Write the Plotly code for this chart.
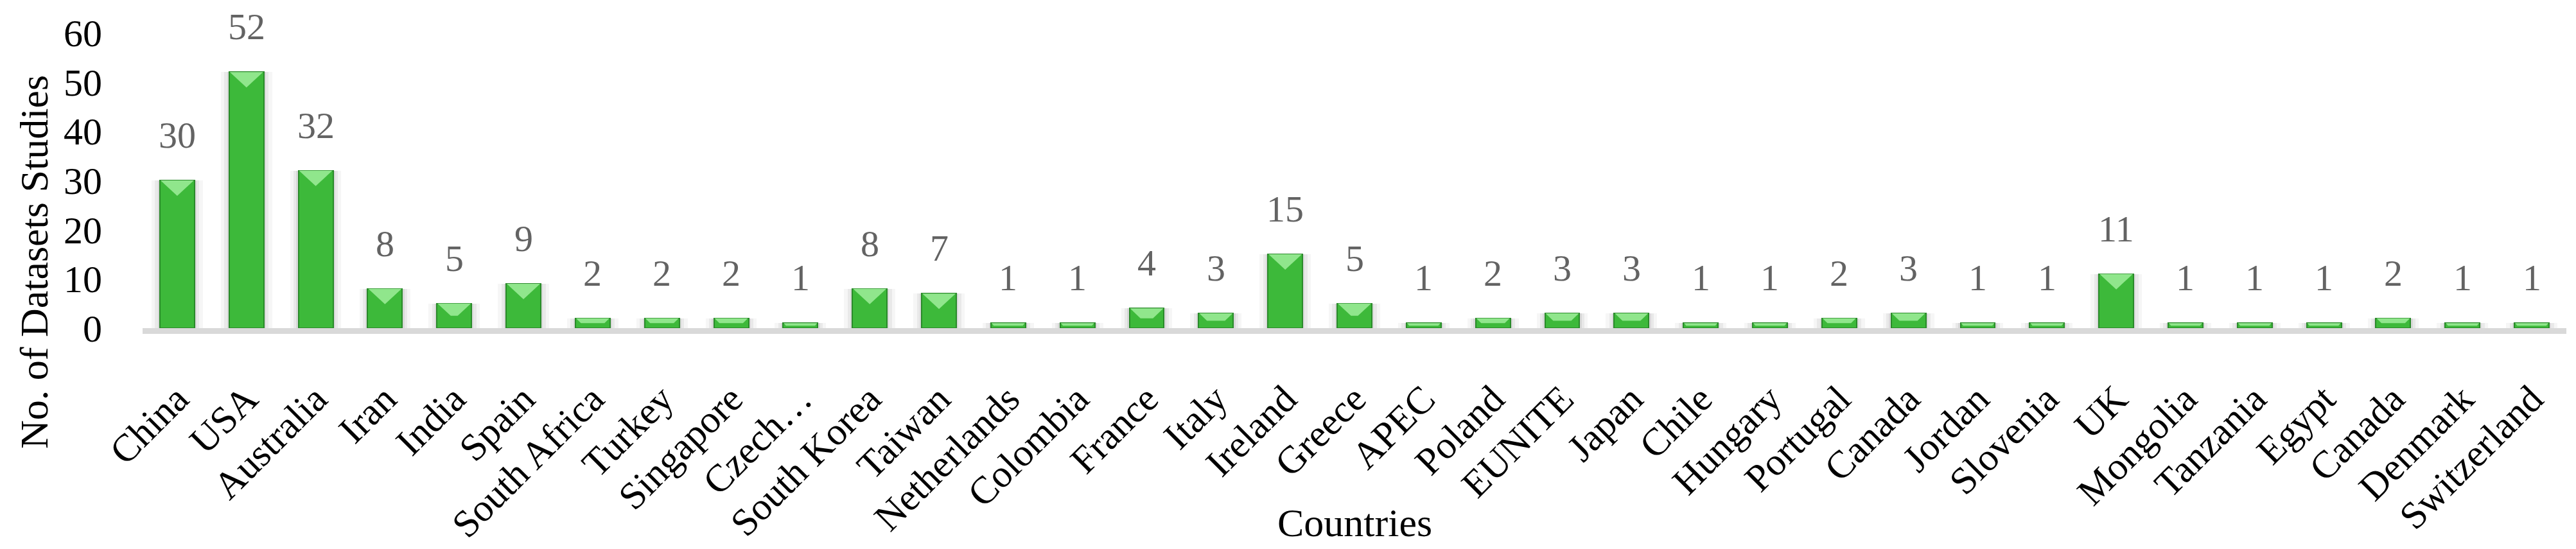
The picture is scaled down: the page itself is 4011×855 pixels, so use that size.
import plotly.graph_objects as go

countries = [
    "China", "USA", "Australia", "Iran", "India", "Spain", "South Africa",
    "Turkey", "Singapore", "Czech…", "South Korea", "Taiwan", "Netherlands",
    "Colombia", "France", "Italy", "Ireland", "Greece", "APEC", "Poland",
    "EUNITE", "Japan", "Chile", "Hungary", "Portugal", "Canada", "Jordan",
    "Slovenia", "UK", "Mongolia", "Tanzania", "Egypt", "Canada", "Denmark",
    "Switzerland"
]
studies = [
    30, 52, 32, 8, 5, 9, 2, 2, 2, 1, 8, 7, 1, 1, 4, 3, 15, 5, 1, 2, 3, 3,
    1, 1, 2, 3, 1, 1, 11, 1, 1, 1, 2, 1, 1
]
y_ticks = [0, 10, 20, 30, 40, 50, 60]

W, H = 4011, 855
ML, MR, MT, MB = 214, 23, 43, 352
FONT = "Liberation Serif, Times New Roman, serif"

pos = list(range(len(countries)))
plot_h = H - MT - MB
ppu = plot_h / 60.0           # pixels per unit on y
bar_px = 0.5 * (W - ML - MR) / len(countries)
half = bar_px / 2

fig = go.Figure()

# soft shadow behind bars
for w, a in [(0.74, 0.035), (0.64, 0.05), (0.56, 0.07)]:
    fig.add_bar(x=pos, y=studies, width=w, hoverinfo="skip",
                marker=dict(color=f"rgba(0,0,0,{a})", line_width=0),
                showlegend=False)

fig.add_bar(
    x=pos, y=studies, width=0.5, showlegend=False,
    marker=dict(color="#3db93a", line=dict(color="#2a8a2a", width=2)),
)

# bevel on top of each bar
for i, v in zip(pos, studies):
    h = v * ppu
    th = 24 if h >= 48 else h * 0.5
    b = half * (1 - th / 24)
    fig.add_shape(
        type="path", xref="x", yref="y",
        xsizemode="pixel", ysizemode="pixel", xanchor=i, yanchor=v,
        path=f"M {-half+1} 0 L {half-1} 0 L {b} {-th} L {-b} {-th} Z",
        fillcolor="#90e68c", line=dict(width=0), layer="above",
    )
    fig.add_annotation(
        x=i, y=v, text=str(v), showarrow=False, yanchor="bottom",
        yshift=36, font=dict(family=FONT, size=58, color="#636363"),
    )

fig.add_annotation(
    text="No. of Datasets Studies", xref="paper", yref="paper",
    x=-(ML - 45) / (W - ML - MR), y=1 - (400 - MT) / plot_h,
    textangle=-90, showarrow=False, xanchor="center", yanchor="middle",
    font=dict(family=FONT, size=62, color="black"),
)
fig.add_annotation(
    text="Countries", xref="paper", yref="paper",
    x=0.5, y=-(806 - (H - MB)) / plot_h,
    showarrow=False, xanchor="center", yanchor="middle",
    font=dict(family=FONT, size=62, color="black"),
)

fig.update_layout(
    width=W, height=H, barmode="overlay", bargap=0,
    margin=dict(l=ML, r=MR, t=MT, b=MB),
    plot_bgcolor="white", paper_bgcolor="white",
    font=dict(family=FONT, color="black"),
)
fig.update_xaxes(
    tickvals=pos, ticktext=countries, tickangle=-45,
    range=[-0.5, len(countries) - 0.5],
    showline=True, linecolor="#d9d9d9", linewidth=9,
    ticks="outside", ticklen=42, tickcolor="rgba(0,0,0,0)",
    showgrid=False, zeroline=False,
    tickfont=dict(family=FONT, size=60, color="black"),
)
fig.update_yaxes(
    range=[0, 60], tickvals=y_ticks, showgrid=False, zeroline=False,
    showline=False, ticks="outside", ticklen=50, tickcolor="rgba(0,0,0,0)",
    tickfont=dict(family=FONT, size=60, color="black"),
)

fig.write_html("out.html")
